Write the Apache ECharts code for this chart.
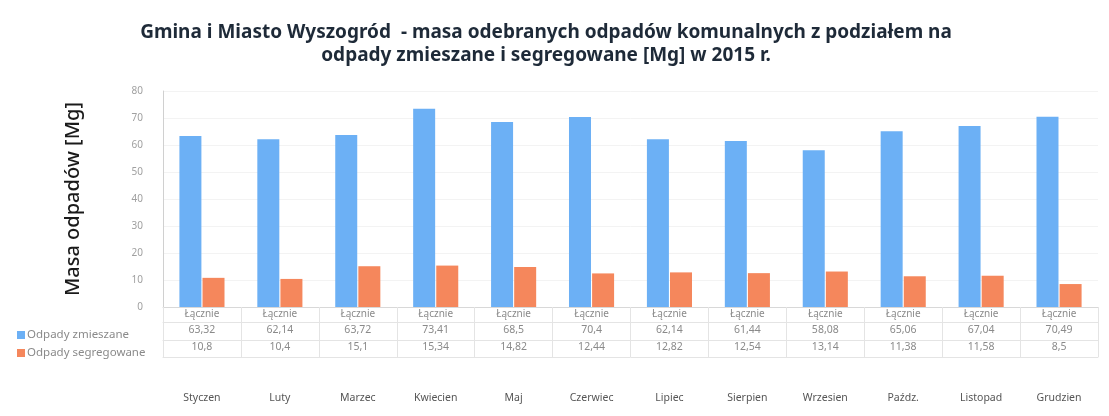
<!DOCTYPE html>
<html>
<head>
<meta charset="utf-8">
<script src="https://cdn.jsdelivr.net/npm/echarts@6/dist/echarts.min.js"></script>
<style>
  html, body { margin: 0; padding: 0; background: #fff; }
  #main { width: 1109px; height: 416px; }
</style>
</head>
<body>
<div id="main"></div>
<script>
var months = ['Styczen', 'Luty', 'Marzec', 'Kwiecien', 'Maj', 'Czerwiec', 'Lipiec', 'Sierpien', 'Wrzesien', 'Paźdz.', 'Listopad', 'Grudzien'];
var zmieszane = [63.32, 62.14, 63.72, 73.41, 68.5, 70.4, 62.14, 61.44, 58.08, 65.06, 67.04, 70.49];
var segregowane = [10.8, 10.4, 15.1, 15.34, 14.82, 12.44, 12.82, 12.54, 13.14, 11.38, 11.58, 8.5];
var yTicks = { min: 0, max: 80, interval: 10 };

var chart = echarts.init(document.getElementById('main'));

function pl(v) {
  return String(v).replace('.', ',');
}

// empty axes used only to draw the table row lines
function rowLine(offset) {
  return {
    type: 'category',
    position: 'bottom',
    offset: offset,
    data: months,
    axisLine: { show: true, lineStyle: { color: '#e4e4e4', width: 1 } },
    axisTick: { show: false },
    axisLabel: { show: false }
  };
}

var option = {
  backgroundColor: '#fff',
  color: ['#6cb0f5', '#f5875c'],
  textStyle: { fontFamily: 'Noto Sans' },
  title: {
    text: 'Gmina i Miasto Wyszogród  - masa odebranych odpadów komunalnych z podziałem na\nodpady zmieszane i segregowane [Mg] w 2015 r.',
    left: 541,
    top: 16,
    textAlign: 'center',
    textStyle: { fontSize: 19, fontWeight: 'bold', color: '#1e2a38', lineHeight: 23, align: 'center' }
  },
  legend: {
    orient: 'vertical',
    left: 12,
    top: 324,
    itemWidth: 8,
    itemHeight: 8,
    itemGap: 6,
    icon: 'rect',
    textStyle: { color: '#8a8a8a', fontSize: 11.5, padding: [0, 0, 0, -3] },
    data: ['Odpady zmieszane', 'Odpady segregowane']
  },
  grid: { left: 163, right: 11, top: 91, bottom: 109 },
  xAxis: [
    {
      type: 'category',
      data: months,
      axisLine: { lineStyle: { color: '#d8d8d8' } },
      axisTick: { show: true, length: 50, lineStyle: { color: '#e4e4e4' } },
      axisLabel: {
        margin: 0,
        interval: 0,
        formatter: function (v, i) {
          return '{a|Łącznie}\n{b|' + pl(zmieszane[i]) + '}\n{b|' + pl(segregowane[i]) + '}';
        },
        rich: {
          a: { fontSize: 10, color: '#8a8a8a', lineHeight: 15 },
          b: { fontSize: 10.5, color: '#8a8a8a', lineHeight: 17 }
        }
      }
    },
    rowLine(15),
    rowLine(33),
    rowLine(50),
    {
      type: 'category',
      position: 'bottom',
      offset: 78,
      data: months,
      axisLine: { show: false },
      axisTick: { show: false },
      axisLabel: { interval: 0, fontSize: 10.5, color: '#555' }
    }
  ],
  yAxis: {
    type: 'value',
    min: yTicks.min,
    max: yTicks.max,
    interval: yTicks.interval,
    name: 'Masa odpadów [Mg]',
    nameLocation: 'middle',
    nameGap: 80,
    nameTextStyle: { fontSize: 20, fontWeight: 500, color: '#1a1a1a' },
    axisLine: { show: true, lineStyle: { color: '#d0d0d0' } },
    axisTick: { show: false },
    axisLabel: { color: '#a0a0a0', fontSize: 10, margin: 20 },
    splitLine: { show: true, lineStyle: { color: '#f3f3f3' } }
  },
  series: [
    {
      name: 'Odpady zmieszane',
      type: 'bar',
      data: zmieszane,
      barWidth: 22,
      barGap: '5%'
    },
    {
      name: 'Odpady segregowane',
      type: 'bar',
      data: segregowane,
      barWidth: 22,
      barGap: '5%'
    }
  ]
};

chart.setOption(option);
</script>
</body>
</html>
